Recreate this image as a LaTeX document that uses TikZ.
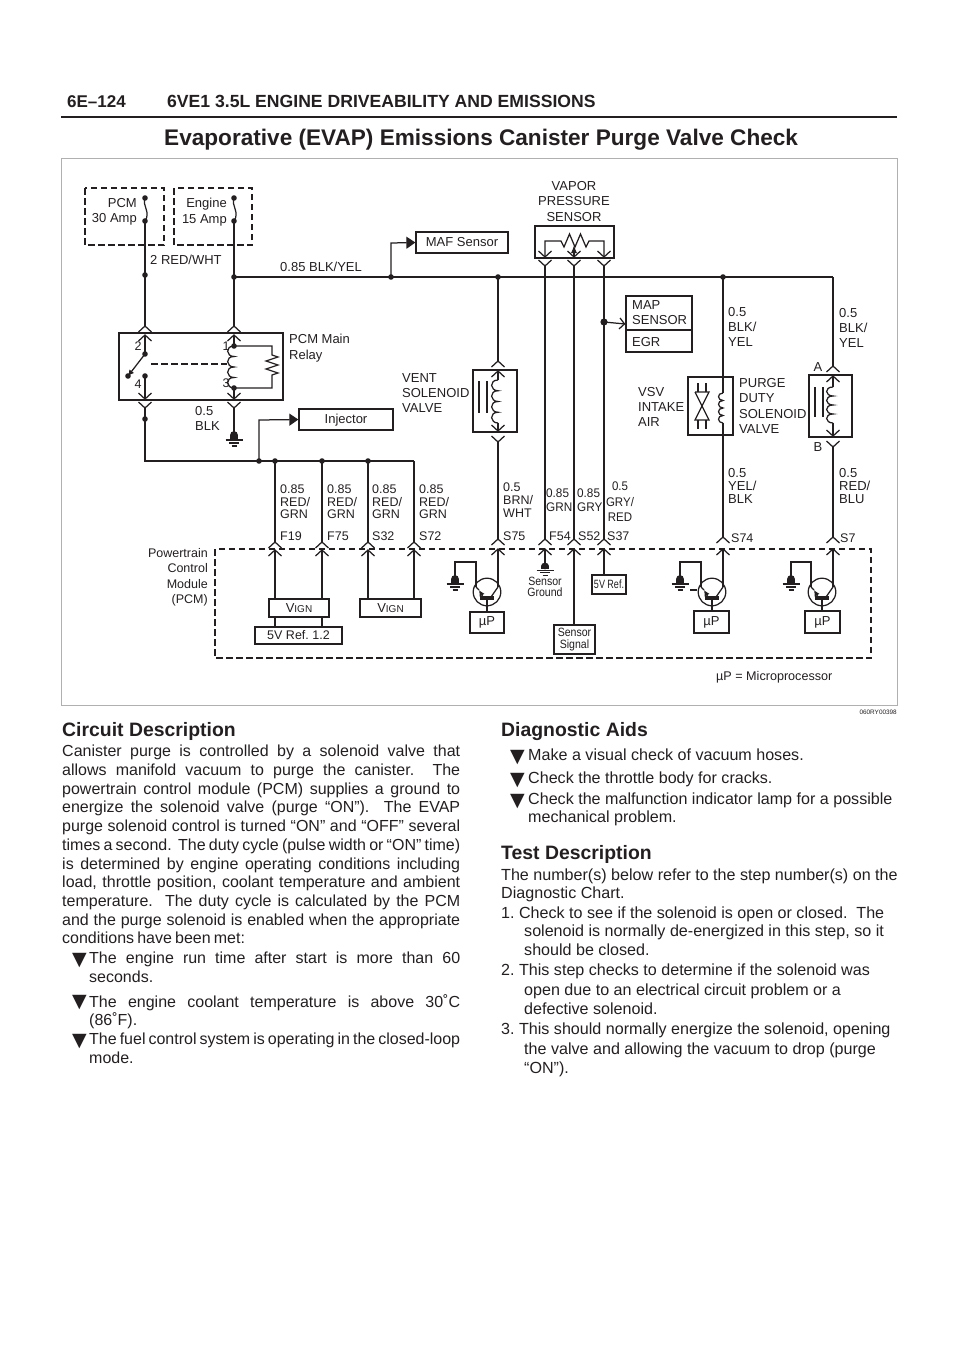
\documentclass[tikz,border=0pt]{standalone}
\usepackage{fontspec}
\setmainfont{Liberation Sans}
\newfontfamily\symfont{DejaVu Sans}
\newfontfamily\parafont[WordSpace={0.7,3,1}]{Liberation Sans}
\usetikzlibrary{arrows.meta}
\definecolor{ink}{HTML}{231F20}
\definecolor{framegray}{HTML}{B0B0B0}
\tolerance=10000
\frenchspacing
\tikzset{
  wire/.style={draw=ink, line width=1.25pt},
  dashwire/.style={draw=ink, line width=1.15pt, dash pattern=on 6.5pt off 3.5pt},
  box/.style={draw=ink, line width=1.25pt, inner sep=0pt, text=ink},
  lbl/.style={anchor=north west, inner sep=0pt, text=ink, align=left, font=\fontsize{12.5}{12.7}\selectfont},
  lblr/.style={lbl, anchor=north east, align=right},
  lblc/.style={lbl, anchor=north, align=center},
  head/.style={anchor=base west, inner sep=0pt, text=ink, font=\fontsize{19.4}{24}\selectfont\bfseries},
  para/.style={anchor=north west, inner sep=0pt, text=ink, align=justify, font=\parafont\fontsize{16}{18.7}\selectfont},
  line/.style={anchor=north west, inner sep=0pt, text=ink, align=left, font=\fontsize{16.1}{19}\selectfont},
  tick/.style={anchor=base west, inner sep=0pt, text=ink, font=\symfont\fontsize{19}{19}\selectfont},
  pics/chevup/.style={code={\draw [wire] (-6.5, 6) -- (0, 0) -- (6.5, 6);}},
  pics/chevdown/.style={code={\draw [wire] (-6.5, -6) -- (0, 0) -- (6.5, -6);}},
  pics/dotted/.style={code={\fill [ink] (0, 0) circle (2.8);}},
  pics/gnd/.style={code={
    \fill [ink] (0, 0) circle (3.9);
    \fill [ink] (-3.9, 0) rectangle (3.9, 4);
    \draw [wire] (-8.5, 5) -- (8.5, 5);
    \draw [wire] (-5, 8) -- (5, 8);
    \draw [wire] (-2.5, 11) -- (2.5, 11);
  }},
  pics/coil/.style={code={
    \draw [wire] (0, 0) .. controls (-9, 0) and (-8, 10) .. (0, 10) .. controls (-9, 10) and (-8, 20) .. (0, 20) .. controls (-9, 20) and (-8, 30) .. (0, 30) .. controls (-9, 30) and (-8, 40) .. (0, 40);
  }},
  pics/qpnp/.style={code={
    \draw [wire] (0, 0) circle (13.8);
    \draw [ink, line width=4pt] (-7, 6) -- (7, 6);
    \draw [wire] (0, 7) -- (0, 20);
    \draw [wire] (4, 5) -- (11, -5);
    \draw [wire, {Latex[length=6pt,width=6pt]}-] (-8, -2) -- (-4, 5);
    \draw [wire] (-8, -2) -- (-11, -5);
  }},
}
\begin{document}
\begin{tikzpicture}[x=1pt, y=-1pt]
\useasboundingbox (0, 0) rectangle (960, 1358);

\draw (67, 107) node [head, font=\fontsize{17}{20}\selectfont\bfseries] (pageno) {6E–124};
\draw (167, 107) node [head, font=\fontsize{17.6}{20}\selectfont\bfseries] (pagehead) {6VE1 3.5L ENGINE DRIVEABILITY AND EMISSIONS};
\coordinate (rulea) at (61, 117);
\coordinate (ruleb) at (897, 117);
\draw [ink, line width=1.8pt] (rulea) -- (ruleb);
\draw (164, 145) node [head, font=\fontsize{22.6}{28}\selectfont\bfseries] (title) {Evaporative (EVAP) Emissions Canister Purge Valve Check};
\draw [framegray, line width=1pt] (61, 158) rectangle (897, 705);
\draw (897, 712) node [anchor=east, inner sep=0pt, text=ink, font=\fontsize{6.4}{7}\selectfont] (figcode) {060RY00398};

\draw [dashwire] (85, 188) rectangle (164, 245);
\draw [dashwire] (174, 188) rectangle (252, 245);
\draw (137, 198) node [lblr, font=\fontsize{13}{15.5}\selectfont] (pcmfuse) {PCM\\30 Amp};
\draw (227, 198) node [lblr, font=\fontsize{13}{15.5}\selectfont] (engfuse) {Engine\\15 Amp};
\coordinate (fusea) at (145, 198);
\coordinate (fuseb) at (145, 221);
\coordinate (fusec) at (234, 198);
\coordinate (fused) at (234, 221);
\draw [wire] (fusea) .. controls (142, 206) and (151, 212) .. (fuseb);
\draw [wire] (fusec) .. controls (231, 206) and (240, 212) .. (fused);
\draw (fusea) pic {dotted};
\draw (fuseb) pic {dotted};
\draw (fusec) pic {dotted};
\draw (fused) pic {dotted};
\draw (150, 255) node [lbl, font=\fontsize{13}{15}\selectfont] (redwht) {2 RED/WHT};
\draw (280, 262) node [lbl, font=\fontsize{13}{15}\selectfont] (blkyel) {0.85 BLK/YEL};

\coordinate (relaya) at (145, 326);
\coordinate (relayb) at (234, 326);
\coordinate (mainl) at (234, 277);
\coordinate (mainr) at (833, 277);
\coordinate (mafj) at (391, 277);
\coordinate (mafb) at (391, 243);
\coordinate (ventj) at (498, 277);
\coordinate (purgej) at (723, 277);
\coordinate (splice) at (145, 275);
\draw [wire] (fuseb) -- (relaya);
\draw [wire] (fused) -- (relayb);
\draw [wire] (mainl) -- (mainr);
\draw (splice) pic {dotted};
\draw (mainl) pic {dotted};
\draw (mafj) pic {dotted};
\draw (ventj) pic {dotted};
\draw (purgej) pic {dotted};
\draw (462, 242.5) node [box, minimum width=92, minimum height=21, font=\fontsize{13}{15}\selectfont] (maf) {MAF Sensor};
\draw [wire, -{Triangle[length=9pt,width=12pt]}] (mafj) -- (mafb) -- (maf.west);

\draw [box] (119, 333) rectangle (283, 400);
\draw (relaya) pic {chevup};
\draw (relayb) pic {chevup};
\draw (145, 335) pic {chevup};
\draw (234, 335) pic {chevup};
\coordinate (swa) at (145, 354);
\coordinate (swb) at (128, 376);
\coordinate (swc) at (145, 376);
\coordinate (rela) at (145, 335);
\coordinate (relb) at (145, 399);
\coordinate (relc) at (234, 335);
\coordinate (reld) at (234, 399);
\coordinate (cola) at (234, 346);
\coordinate (colb) at (234, 388);
\coordinate (resa) at (272, 346);
\coordinate (resb) at (272, 388);
\coordinate (dasha) at (151, 364);
\coordinate (dashb) at (227, 364);
\draw [wire] (rela) -- (swa);
\draw [wire, -{Latex[length=6pt,width=6pt]}] (swa) -- (swb);
\draw [wire] (swc) -- (relb);
\draw [wire] (relc) -- (cola);
\draw [wire] (colb) -- (reld);
\draw (cola) pic [yscale=1.05] {coil};
\draw (swa) pic {dotted};
\draw (swb) pic {dotted};
\draw (swc) pic {dotted};
\draw (cola) pic {dotted};
\draw (colb) pic {dotted};
\draw [dashwire] (dasha) -- (dashb);
\draw [wire] (cola) -- (resa) -- ++(0, 9) -- ++(6, 2) -- ++(-12, 4) -- ++(12, 4) -- ++(-12, 4) -- ++(12, 4) -- ++(-6, 2) -- (resb) -- (colb);
\draw (relb) pic {chevdown};
\draw (reld) pic {chevdown};
\draw (145, 408) pic {chevdown};
\draw (234, 408) pic {chevdown};
\draw (138, 342) node [lbl, anchor=north] (pina) {2};
\draw (226, 342) node [lbl, anchor=north] (pinb) {1};
\draw (138, 380) node [lbl, anchor=north] (pinc) {4};
\draw (226, 379) node [lbl, anchor=north] (pind) {3};
\draw (289, 334) node [lbl, font=\fontsize{13}{15.5}\selectfont] (mainrelay) {PCM Main\\Relay};
\draw (195, 406.5) node [lbl, font=\fontsize{13}{14.5}\selectfont] (blkwire) {0.5\\BLK};

\coordinate (rowl) at (145, 408);
\coordinate (rowj) at (145, 461);
\coordinate (rowr) at (414, 461);
\coordinate (gnda) at (234, 408);
\coordinate (gndb) at (234, 435);
\coordinate (inja) at (259, 461);
\coordinate (injb) at (259, 420);
\draw [wire] (rowl) -- (rowj) -- (rowr);
\draw (145, 419) pic {dotted};
\draw [wire] (gnda) -- (gndb);
\draw (gndb) pic {gnd};
\draw (346, 419.5) node [box, minimum width=94, minimum height=21, text height=9.5pt, text depth=2.5pt, font=\fontsize{13}{15}\selectfont] (injector) {Injector};
\draw [wire, -{Triangle[length=9pt,width=12pt]}] (inja) -- (injb) -- (injector.west);
\draw (inja) pic {dotted};
\draw (275, 461) pic {dotted};
\draw (322, 461) pic {dotted};
\draw (368, 461) pic {dotted};

\coordinate (fa) at (275, 461);
\coordinate (fb) at (322, 461);
\coordinate (fc) at (368, 461);
\coordinate (fd) at (414, 461);
\coordinate (fatip) at (275, 542);
\coordinate (fbtip) at (322, 542);
\coordinate (fctip) at (368, 542);
\coordinate (fdtip) at (414, 542);
\draw [wire] (fa) -- (fatip);
\draw [wire] (fb) -- (fbtip);
\draw [wire] (fc) -- (fctip);
\draw [wire] (fd) -- (fdtip);
\draw (fatip) pic {chevup};
\draw (fbtip) pic {chevup};
\draw (fctip) pic {chevup};
\draw (fdtip) pic {chevup};
\draw (280, 484.5) node [lbl] (w19) {0.85\\RED/\\GRN};
\draw (327, 484.5) node [lbl] (w75) {0.85\\RED/\\GRN};
\draw (372, 484.5) node [lbl] (w32) {0.85\\RED/\\GRN};
\draw (419, 484.5) node [lbl] (w72) {0.85\\RED/\\GRN};
\draw (280, 532) node [lbl] (f19) {F19};
\draw (327, 532) node [lbl] (f75) {F75};
\draw (372, 532) node [lbl] (s32) {S32};
\draw (419, 532) node [lbl] (s72) {S72};

\draw [dashwire] (215, 549) rectangle (871, 658);
\draw (208, 548) node [lblr, font=\fontsize{12.5}{15.4}\selectfont] (pcmname) {Powertrain\\Control\\Module\\(PCM)};
\draw (299, 608) node [box, minimum width=60, minimum height=18] (vigna) {\fontsize{13}{15}\selectfont V\fontsize{10}{12}\selectfont IGN};
\draw (390.5, 608) node [box, minimum width=61, minimum height=18] (vignb) {\fontsize{13}{15}\selectfont V\fontsize{10}{12}\selectfont IGN};
\draw (298.5, 635.5) node [box, minimum width=87, minimum height=17, font=\fontsize{12.5}{15}\selectfont] (fiveva) {5V Ref. 1.2};
\coordinate (fain) at (275, 550);
\coordinate (fbin) at (322, 550);
\coordinate (fcin) at (368, 550);
\coordinate (fdin) at (414, 550);
\draw [wire] (fain) -- (fain |- vigna.north);
\draw [wire] (fbin) -- (fbin |- vigna.north);
\draw [wire] (fcin) -- (fcin |- vignb.north);
\draw [wire] (fdin) -- (fdin |- vignb.north);
\draw [wire] (fain |- vigna.south) -- (fain |- fiveva.north);
\draw [wire] (fbin |- vigna.south) -- (fbin |- fiveva.north);
\draw (fain) pic {chevup};
\draw (fbin) pic {chevup};
\draw (fcin) pic {chevup};
\draw (fdin) pic {chevup};

\draw (402, 373) node [lbl, font=\fontsize{13}{15}\selectfont] (vent) {VENT\\SOLENOID\\VALVE};
\coordinate (venta) at (498, 361);
\coordinate (ventb) at (498, 371);
\coordinate (ventc) at (498, 380);
\coordinate (ventd) at (498, 423);
\coordinate (vente) at (498, 431);
\coordinate (ventf) at (498, 442);
\coordinate (ventg) at (498, 539);
\draw [box] (473, 370) rectangle (517, 432);
\draw [wire] (ventj) -- (venta);
\draw [wire] (ventb) -- (ventc);
\draw (ventc) pic [yscale=1.075] {coil};
\draw [wire] (ventd) -- (vente);
\draw [wire] (ventf) -- (ventg);
\draw (venta) pic {chevup};
\draw (ventb) pic {chevup};
\draw (vente) pic {chevdown};
\draw (ventf) pic {chevdown};
\draw (ventg) pic {chevup};
\draw [wire] (479, 381) -- (479, 413);
\draw [wire] (487, 381) -- (487, 413);
\draw (503, 483) node [lbl] (w75s) {0.5\\BRN/\\WHT};
\draw (503, 532) node [lbl] (s75) {S75};

\draw (574, 181) node [lblc, font=\fontsize{13}{15.5}\selectfont] (vapor) {VAPOR\\PRESSURE\\SENSOR};
\draw [box] (535, 226) rectangle (614, 258);
\coordinate (vapa) at (545, 241);
\coordinate (vapb) at (561, 241);
\coordinate (vapc) at (589, 241);
\coordinate (vapd) at (604, 241);
\coordinate (vape) at (545, 257);
\coordinate (vapf) at (574, 257);
\coordinate (vapg) at (604, 257);
\coordinate (vaph) at (574, 245);
\draw [wire] (vape) -- (vapa) -- (vapb) -- ++(3, 6) -- ++(5.5, -13) -- ++(5.5, 13) -- ++(5.5, -13) -- ++(5.5, 13) -- ++(3, -6) -- (vapd) -- (vapg);
\draw [wire, -{Latex[length=8pt,width=6pt]}] (vapf) -- (vaph);
\draw (vape) pic {chevdown};
\draw (vapf) pic {chevdown};
\draw (vapg) pic {chevdown};
\draw (545, 266) pic {chevdown};
\draw (574, 266) pic {chevdown};
\draw (604, 266) pic {chevdown};
\coordinate (gndtop) at (545, 266);
\coordinate (gndend) at (545, 539);
\coordinate (sigtop) at (574, 266);
\coordinate (sigend) at (574, 539);
\coordinate (reftop) at (604, 266);
\coordinate (refend) at (604, 539);
\coordinate (mapj) at (604, 322);
\draw [wire] (gndtop) -- (gndend);
\draw [wire] (sigtop) -- (sigend);
\draw [wire] (reftop) -- (refend);
\fill [ink] (mapj) circle (3.6);
\draw (659, 324) node [minimum width=66, minimum height=56, draw=ink, line width=1.25pt, inner sep=0pt] (mapbox) {};
\coordinate (egra) at (626, 330);
\coordinate (egrb) at (692, 330);
\draw [wire] (egra) -- (egrb);
\draw [wire, -{Straight Barb[length=5pt,width=11pt]}] (mapj) -- (mapbox.west);
\draw (632, 300) node [lbl, font=\fontsize{13}{15.3}\selectfont] (mapname) {MAP\\SENSOR};
\draw (632, 337) node [lbl, font=\fontsize{13}{15}\selectfont] (egr) {EGR};
\draw (546, 489) node [lbl, font=\fontsize{12.5}{14}\selectfont, xscale=.94, transform shape] (w54) {0.85\\GRN};
\draw (577, 489) node [lbl, font=\fontsize{12.5}{14}\selectfont, xscale=.94, transform shape] (w52) {0.85\\GRY};
\draw (620, 482) node [lblc, font=\fontsize{12.5}{15.5}\selectfont, xscale=.92, transform shape] (w37) {0.5\\GRY/\\RED};
\draw (549, 532) node [lbl] (f54) {F54};
\draw (578, 532) node [lbl] (s52) {S52};
\draw (607, 532) node [lbl] (s37) {S37};

\coordinate (gnain) at (545, 549);
\coordinate (gnaend) at (545, 566);
\coordinate (siin) at (574, 549);
\coordinate (rfin) at (604, 549);
\draw (gndend) pic {chevup};
\draw (sigend) pic {chevup};
\draw (refend) pic {chevup};
\draw (gnain) pic {chevup};
\draw (siin) pic {chevup};
\draw (rfin) pic {chevup};
\draw [wire] (gnain) -- (gnaend);
\draw (gnaend) pic [yscale=.85] {gnd};
\draw (545, 577) node [lblc, font=\fontsize{12}{11.2}\selectfont] (sensground) {\scalebox{.88}[1]{Sensor}\\\scalebox{.88}[1]{Ground}};
\draw (574.5, 639.5) node [box, minimum width=41, minimum height=29, font=\fontsize{12}{11.2}\selectfont, align=center] (senssignal) {\scalebox{.88}[1]{Sensor}\\\scalebox{.88}[1]{Signal}};
\draw (609, 584.5) node [box, minimum width=34, minimum height=19, font=\fontsize{12}{13}\selectfont] (fivevb) {\scalebox{.75}[1]{5V Ref.}};
\draw [wire] (siin) -- (senssignal.north -| siin);
\draw [wire] (rfin) -- (fivevb.north -| rfin);

\coordinate (qa) at (487, 592);
\coordinate (qac) at (498, 587);
\coordinate (qae) at (476, 587);
\coordinate (qat) at (476, 562);
\coordinate (qag) at (455, 562);
\coordinate (qad) at (455, 579);
\coordinate (qain) at (498, 549);
\draw (qa) pic {qpnp};
\draw [wire] (qain) -- (qac);
\draw [wire] (qae) -- (qat) -- (qag) -- (qad);
\draw (qad) pic {gnd};
\draw (qain) pic {chevup};
\draw (487, 622.5) node [box, minimum width=34, minimum height=21, font=\fontsize{13}{15}\selectfont] (upa) {µP};

\draw (638, 387) node [lbl, font=\fontsize{13}{15.2}\selectfont] (vsv) {VSV\\INTAKE\\AIR};
\draw [box] (688, 377) rectangle (733, 435);
\coordinate (puma) at (723, 393);
\coordinate (pumb) at (723, 423);
\coordinate (pumc) at (723, 537);
\coordinate (bowa) at (695, 392);
\coordinate (bowb) at (709, 392);
\coordinate (bowc) at (695, 420);
\coordinate (bowd) at (709, 420);
\draw [wire] (purgej) -- (puma);
\draw (puma) pic [yscale=.75, xscale=.7] {coil};
\draw [wire] (pumb) -- (pumc);
\draw (pumc) pic {chevup};
\draw [wire] (bowa) -- (bowb) -- (bowc) -- (bowd) -- (bowa);
\draw [wire] (698, 383) -- (698, 392);
\draw [wire] (706, 383) -- (706, 392);
\draw [wire] (698, 420) -- (698, 429);
\draw [wire] (706, 420) -- (706, 429);
\draw (739, 378) node [lbl, font=\fontsize{13}{15.4}\selectfont] (purge) {PURGE\\DUTY\\SOLENOID\\VALVE};
\draw (728, 307) node [lbl, font=\fontsize{13}{15.2}\selectfont] (wpb) {0.5\\BLK/\\YEL};
\draw (728, 468) node [lbl, font=\fontsize{13}{13.2}\selectfont] (wpy) {0.5\\YEL/\\BLK};
\draw (731, 533.5) node [lbl] (s74) {S74};

\coordinate (vala) at (833, 366);
\coordinate (valb) at (833, 376);
\coordinate (valc) at (833, 387);
\coordinate (vald) at (833, 423);
\coordinate (vale) at (833, 436);
\coordinate (valf) at (833, 447);
\coordinate (valg) at (833, 537);
\draw [box] (809, 375) rectangle (852, 437);
\draw [wire] (mainr) -- (vala);
\draw [wire] (valb) -- (valc);
\draw (valc) pic [yscale=.9] {coil};
\draw [wire] (vald) -- (vale);
\draw [wire] (valf) -- (valg);
\draw (vala) pic {chevup};
\draw (valb) pic {chevup};
\draw (vale) pic {chevdown};
\draw (valf) pic {chevdown};
\draw (valg) pic {chevup};
\draw [wire] (815, 387) -- (815, 417);
\draw [wire] (823, 387) -- (823, 417);
\draw (818, 367) node [lblc, anchor=center, font=\fontsize{13}{15}\selectfont] (pina2) {A};
\draw (818, 447) node [lblc, anchor=center, font=\fontsize{13}{15}\selectfont] (pinb2) {B};
\draw (839, 308) node [lbl, font=\fontsize{13}{15.2}\selectfont] (wvb) {0.5\\BLK/\\YEL};
\draw (839, 468) node [lbl, font=\fontsize{13}{13.2}\selectfont] (wvr) {0.5\\RED/\\BLU};
\draw (840, 533.5) node [lbl] (s7) {S7};

\coordinate (qb) at (712, 592);
\coordinate (qbc) at (723, 587);
\coordinate (qbe) at (701, 587);
\coordinate (qbt) at (701, 562);
\coordinate (qbg) at (680, 562);
\coordinate (qbd) at (680, 579);
\coordinate (qbin) at (723, 549);
\coordinate (tica) at (690, 590);
\coordinate (ticb) at (697, 590);
\draw (qb) pic {qpnp};
\draw [wire] (qbin) -- (qbc);
\draw [wire] (qbe) -- (qbt) -- (qbg) -- (qbd);
\draw [wire] (tica) -- (ticb);
\draw (qbd) pic {gnd};
\draw (qbin) pic {chevup};
\draw (711.5, 622) node [box, minimum width=35, minimum height=22, font=\fontsize{13}{15}\selectfont] (upb) {µP};

\coordinate (qc) at (822, 592);
\coordinate (qcc) at (833, 587);
\coordinate (qce) at (811, 587);
\coordinate (qct) at (811, 562);
\coordinate (qcg) at (791, 562);
\coordinate (qcd) at (791, 579);
\coordinate (qcin) at (833, 549);
\draw (qc) pic {qpnp};
\draw [wire] (qcin) -- (qcc);
\draw [wire] (qce) -- (qct) -- (qcg) -- (qcd);
\draw (qcd) pic {gnd};
\draw (qcin) pic {chevup};
\draw (822.5, 622) node [box, minimum width=35, minimum height=22, font=\fontsize{13}{15}\selectfont] (upc) {µP};
\draw (716, 671) node [lbl, font=\fontsize{12.6}{15}\selectfont] (upnote) {µP = Microprocessor};

\draw (62, 736) node [head] (circuit) {Circuit Description};
\draw (62, 745) node [para, text width=398] (body) {Canister purge is controlled by a solenoid valve that\linebreak allows manifold vacuum to purge the canister.\ \ The\linebreak powertrain control module (PCM) supplies a ground to\linebreak energize the solenoid valve (purge “ON”).\ \ The EVAP\linebreak purge solenoid control is turned “ON” and “OFF” several\linebreak times a second.\ \ The duty cycle (pulse width or “ON” time)\linebreak is determined by engine operating conditions including\linebreak load, throttle position, coolant temperature and ambient\linebreak temperature.\ \ The duty cycle is calculated by the PCM\linebreak and the purge solenoid is enabled when the appropriate\linebreak conditions have been met:};
\draw (72, 965) node [tick] (ticka) {▼};
\draw (72, 1007) node [tick] (tickb) {▼};
\draw (72, 1046) node [tick] (tickc) {▼};
\draw (89, 952) node [para, text width=371] (bula) {The engine run time after start is more than 60\linebreak seconds.};
\draw (89, 994) node [para, text width=371] (bulb) {The engine coolant temperature is above 30˚C\linebreak (86˚F).};
\draw (89, 1033) node [para, text width=371] (bulc) {The fuel control system is operating in the closed-loop\linebreak mode.};

\draw (501, 736) node [head] (aids) {Diagnostic Aids};
\draw (510, 762) node [tick] (tickd) {▼};
\draw (510, 785) node [tick] (ticke) {▼};
\draw (510, 806) node [tick] (tickf) {▼};
\draw (528, 749) node [line] (aida) {Make a visual check of vacuum hoses.};
\draw (528, 772) node [line] (aidb) {Check the throttle body for cracks.};
\draw (528, 793) node [line, font=\fontsize{16.1}{18}\selectfont] (aidc) {Check the malfunction indicator lamp for a possible\\mechanical problem.};
\draw (501, 859) node [head] (testd) {Test Description};
\draw (501, 869) node [line, font=\fontsize{16.1}{18}\selectfont] (testa) {The number(s) below refer to the step number(s) on the\\Diagnostic Chart.};
\draw (501, 907) node [line] (stepa) {1. Check to see if the solenoid is open or closed.\ \ The};
\draw (524, 925) node [line] (stepb) {solenoid is normally de-energized in this step, so it\\should be closed.};
\draw (501, 964) node [line] (stepc) {2. This step checks to determine if the solenoid was};
\draw (524, 984) node [line] (stepd) {open due to an electrical circuit problem or a\\defective solenoid.};
\draw (501, 1023) node [line] (stepe) {3. This should normally energize the solenoid, opening};
\draw (524, 1043) node [line, font=\fontsize{16.1}{18.5}\selectfont] (stepf) {the valve and allowing the vacuum to drop (purge\\“ON”).};
\end{tikzpicture}
\end{document}
